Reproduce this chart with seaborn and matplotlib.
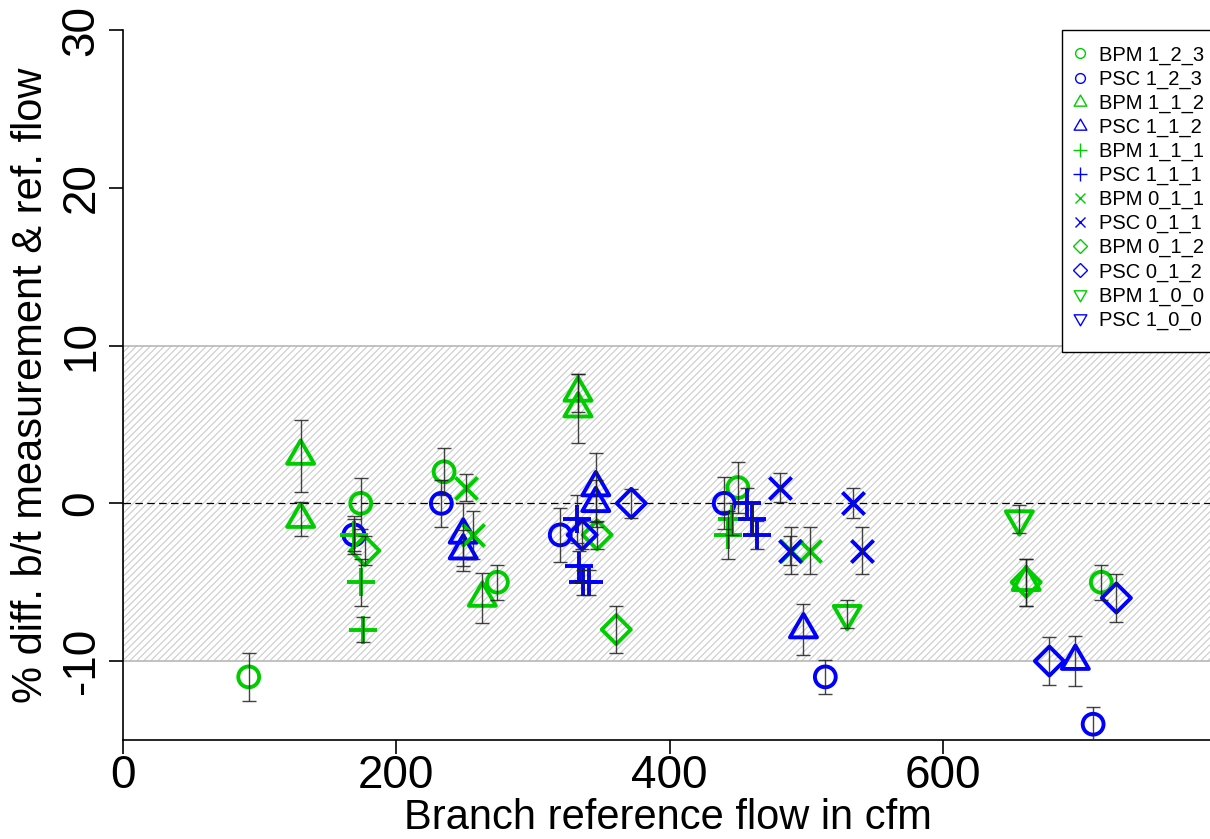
import matplotlib
matplotlib.use("Agg")
import matplotlib.pyplot as plt
import seaborn as sns
import numpy as np
from matplotlib.collections import LineCollection
from matplotlib.patches import Rectangle
from matplotlib.lines import Line2D
from matplotlib.path import Path

# Each series: branch reference flow (cfm), % difference, error-bar half width
bpm_123_x = [92, 174, 235, 274, 450, 716]
bpm_123_y = [-11, 0, 2, -5, 1, -5]
bpm_123_e = [1.5, 1.6, 1.5, 1.1, 1.6, 1.1]

psc_123_x = [169, 233, 320, 440, 514, 710]
psc_123_y = [-2, 0, -2, 0, -11, -14]
psc_123_e = [1.2, 1.5, 1.7, 1.65, 1.1, 1.1]

bpm_112_x = [130, 130, 263, 333, 333, 661]
bpm_112_y = [3, -1, -6, 7, 6, -5]
bpm_112_e = [2.3, 1.1, 1.6, 1.2, 2.2, 1.5]

psc_112_x = [249, 249, 346, 346, 498, 697]
psc_112_y = [-2, -3, 1, 0, -8, -10]
psc_112_e = [2.0, 1.3, 2.2, 1.5, 1.6, 1.6]

bpm_111_x = [169, 174, 176, 446, 443]
bpm_111_y = [-2, -5, -8, -1, -2]
bpm_111_e = [1.0, 1.5, 0.8, 1.0, 1.5]

psc_111_x = [332, 334, 337, 341, 457, 460, 464]
psc_111_y = [-1, -4, -5, -5, 0, -1, -2]
psc_111_e = [1.5, 1.0, 0.8, 0.8, 1.0, 1.0, 0.9]

bpm_011_x = [251, 256, 489, 503]
bpm_011_y = [1, -2, -3, -3]
bpm_011_e = [0.85, 1.5, 1.5, 1.5]

psc_011_x = [481, 488, 534, 541]
psc_011_y = [1, -3, 0, -3]
psc_011_e = [0.9, 0.9, 0.95, 1.5]

bpm_012_x = [177, 347, 361, 661]
bpm_012_y = [-3, -2, -8, -5]
bpm_012_e = [0.9, 0.9, 1.5, 1.5]

psc_012_x = [336, 372, 678, 727]
psc_012_y = [-2, 0, -10, -6]
psc_012_e = [0.9, 0.9, 1.5, 1.5]

bpm_100_x = [530, 656]
bpm_100_y = [-7, -1]
bpm_100_e = [0.9, 0.9]

psc_100_x = []
psc_100_y = []
psc_100_e = []

labels = ["BPM 1_2_3", "PSC 1_2_3", "BPM 1_1_2", "PSC 1_1_2",
          "BPM 1_1_1", "PSC 1_1_1", "BPM 0_1_1", "PSC 0_1_1",
          "BPM 0_1_2", "PSC 0_1_2", "BPM 1_0_0", "PSC 1_0_0"]

x_ticks = [0, 200, 400, 600]
y_ticks = [-10, 0, 10, 20, 30]
x_lim = (0, 797)
y_lim = (-15, 30)
band = (-10, 10)

GREEN = "#00cd00"
BLUE = "#0000ff"

# closed equilateral triangles centred on their centroid
TRI_UP = Path([(-1, -0.577), (1, -0.577), (0, 1.155), (-1, -0.577)], closed=True)
TRI_DOWN = Path([(-1, 0.577), (1, 0.577), (0, -1.155), (-1, 0.577)], closed=True)

# (x, y, err, colour, marker, marker size in pt, open outline?)
series = [
    (bpm_123_x, bpm_123_y, bpm_123_e, GREEN, "o", 15, True),
    (psc_123_x, psc_123_y, psc_123_e, BLUE, "o", 15, True),
    (bpm_112_x, bpm_112_y, bpm_112_e, GREEN, TRI_UP, 22.5, True),
    (psc_112_x, psc_112_y, psc_112_e, BLUE, TRI_UP, 22.5, True),
    (bpm_111_x, bpm_111_y, bpm_111_e, GREEN, "+", 20, False),
    (psc_111_x, psc_111_y, psc_111_e, BLUE, "+", 20, False),
    (bpm_011_x, bpm_011_y, bpm_011_e, GREEN, "x", 16, False),
    (psc_011_x, psc_011_y, psc_011_e, BLUE, "x", 16, False),
    (bpm_012_x, bpm_012_y, bpm_012_e, GREEN, "D", 14.8, True),
    (psc_012_x, psc_012_y, psc_012_e, BLUE, "D", 14.8, True),
    (bpm_100_x, bpm_100_y, bpm_100_e, GREEN, TRI_DOWN, 22.5, True),
    (psc_100_x, psc_100_y, psc_100_e, BLUE, TRI_DOWN, 22.5, True),
]

sns.set_theme(style="white")
plt.rcParams["font.family"] = ["Liberation Sans", "DejaVu Sans"]
plt.rcParams["axes.unicode_minus"] = False
plt.rcParams["text.color"] = "black"

W, H, DPI = 1210, 839, 100
fig = plt.figure(figsize=(W / DPI, H / DPI), dpi=DPI)
left_px, right_px, top_px, bottom_px = 123, 1212, 30, 740
ax_w = right_px - left_px
ax_h = bottom_px - top_px
ax = fig.add_axes([left_px / W, 1 - bottom_px / H, ax_w / W, ax_h / H])
ax.set_xlim(*x_lim)
ax.set_ylim(*y_lim)

# tolerance band: light outline plus 45-degree hatch lines
sx = ax_w / (x_lim[1] - x_lim[0])
sy = ax_h / (y_lim[1] - y_lim[0])
yb = (band[0] - y_lim[0]) * sy
yt = (band[1] - y_lim[0]) * sy
hh = yt - yb
segs = []
for c in np.arange(-hh, ax_w + 7, 7.0):
    segs.append([(c / sx, band[0]), ((c + hh) / sx, band[1])])
rect = Rectangle((x_lim[0], band[0]), x_lim[1] - x_lim[0], band[1] - band[0],
                 facecolor="none", edgecolor="#b8b8b8", lw=1.2, zorder=1)
ax.add_patch(rect)
lc = LineCollection(segs, colors="#c8c8c8", linewidths=0.75, zorder=0.5)
lc.set_clip_path(rect)
ax.add_collection(lc)

ax.axhline(0, color="black", lw=0.9, ls=(0, (6, 3.5)), zorder=2)

for xs, ys, es, col, mk, ms, hollow in series:
    if not xs:
        continue
    kw = dict(x=xs, y=ys, ax=ax, marker=mk, s=ms ** 2, linewidth=2.8, zorder=3)
    if hollow:
        sns.scatterplot(facecolor="none", edgecolor=col, **kw)
    else:
        sns.scatterplot(color=col, **kw)

for xs, ys, es, col, mk, ms, hollow in series:
    if not xs:
        continue
    ax.errorbar(xs, ys, yerr=es, fmt="none", ecolor="#222222", alpha=0.85,
                elinewidth=1.0, capsize=4.8, capthick=1.0, zorder=4)

for s in ["top", "right"]:
    ax.spines[s].set_visible(False)
for s in ["left", "bottom"]:
    ax.spines[s].set_color("black")
    ax.spines[s].set_linewidth(1.2)

ax.set_xticks(x_ticks)
ax.set_yticks(y_ticks)
ax.tick_params(axis="both", direction="out", length=10, width=1.2,
               color="black", labelsize=33, labelcolor="black",
               bottom=True, left=True)
ax.tick_params(axis="y", pad=4)
ax.tick_params(axis="x", pad=0)
for t in ax.get_yticklabels():
    t.set_rotation(90)
    t.set_va("center")

ax.set_xlabel("Branch reference flow in cfm", fontsize=30, color="black", labelpad=0)
ax.set_ylabel("% diff. b/t measurement & ref. flow", fontsize=30, color="black", labelpad=6)

# legend: white box with black border in the top-right corner
box_left = (1062 - left_px) / ax_w
box_bottom = (bottom_px - 352) / ax_h
ax.add_patch(Rectangle((box_left, box_bottom), 1.05 - box_left, 1 - box_bottom,
                       transform=ax.transAxes, facecolor="white",
                       edgecolor="black", lw=1.0, clip_on=False, zorder=9))
handles = []
for xs, ys, es, col, mk, ms, hollow in series:
    handles.append(Line2D([], [], linestyle="none", marker=mk, color=col,
                          markerfacecolor="none", markersize=ms * 0.47,
                          markeredgewidth=1.0))
leg = ax.legend(handles, labels, loc="upper left",
                bbox_to_anchor=((1074 - left_px) / ax_w, (bottom_px - 45.5) / ax_h),
                borderaxespad=0, borderpad=0, frameon=False, fontsize=14.5,
                handlelength=0.6, handletextpad=0.65, labelspacing=0.24,
                labelcolor="black")
leg.set_zorder(10)

fig.savefig("out.png", dpi=DPI)
